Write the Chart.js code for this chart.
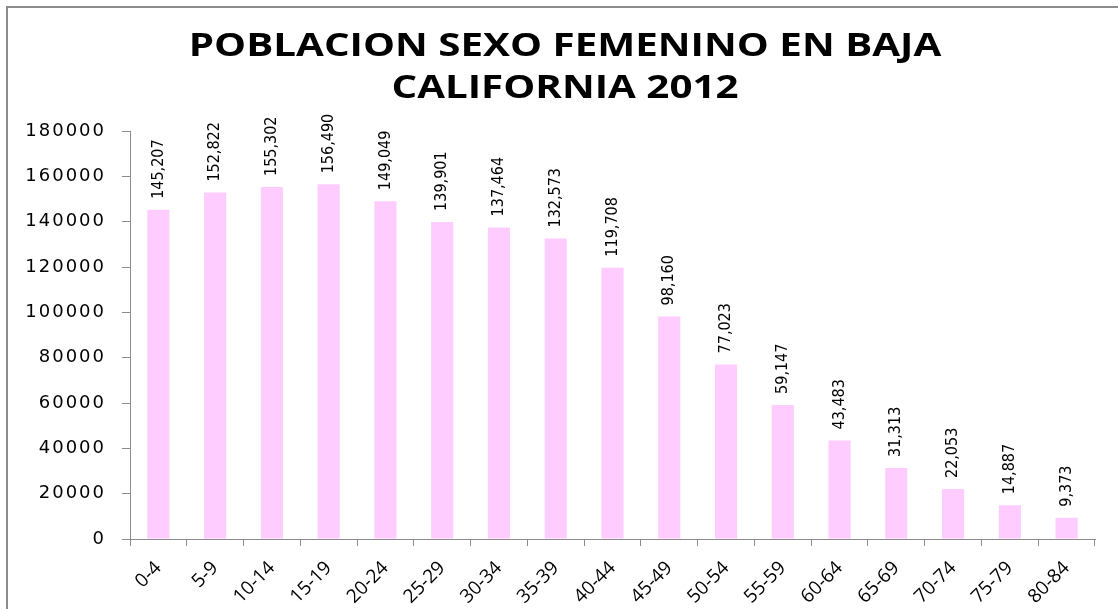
<!DOCTYPE html>
<html>
<head>
<meta charset="utf-8">
<script src="https://cdn.jsdelivr.net/npm/chart.js@4/dist/chart.umd.min.js"></script>
<style>
  html, body { margin: 0; padding: 0; background: #fff; overflow: hidden; }
  #wrap { position: absolute; left: 0; top: 0; width: 1118px; height: 609px; }
  #frame { position: absolute; left: 6px; top: 6px; width: 1200px; height: 700px;
           border-left: 2px solid #8c8c8c; border-top: 2px solid #8c8c8c; }
</style>
</head>
<body>
<div id="wrap">
  <div id="frame"></div>
  <canvas id="myChart" width="1118" height="609"></canvas>
</div>
<script>
(function () {
  "use strict";

  var ageGroups = ["0-4", "5-9", "10-14", "15-19", "20-24", "25-29", "30-34", "35-39",
    "40-44", "45-49", "50-54", "55-59", "60-64", "65-69", "70-74", "75-79", "80-84"];
  var femalePop = [145207, 152822, 155302, 156490, 149049, 139901, 137464, 132573,
    119708, 98160, 77023, 59147, 43483, 31313, 22053, 14887, 9373];
  var titleLines = ["POBLACION SEXO FEMENINO EN BAJA", "CALIFORNIA 2012"];

  // wide-looking y axis numbers: letter spacing only while the y labels draw
  var spacing = {
    id: "spacing",
    afterLayout: function (chart) {
      var y = chart.scales.y;
      if (y._spaced) return;
      var orig = y.drawLabels;
      y.drawLabels = function (area) {
        chart.ctx.letterSpacing = "2px";
        orig.call(this, area);
        chart.ctx.letterSpacing = "0px";
      };
      y._spaced = true;
    }
  };

  // two line title, stretched sideways like the original
  var bigTitle = {
    id: "bigTitle",
    afterDraw: function (chart) {
      var ctx = chart.ctx;
      ctx.save();
      ctx.font = "bold 32px 'Open Sans', sans-serif";
      ctx.fillStyle = "#000";
      ctx.textAlign = "center";
      ctx.textBaseline = "alphabetic";
      ctx.translate(565, 0);
      ctx.scale(1.26, 1);
      ctx.fillText(titleLines[0], 0, 56);
      ctx.fillText(titleLines[1], 0, 98);
      ctx.restore();
    }
  };

  // vertical value labels above each bar
  var barLabels = {
    id: "barLabels",
    afterDatasetsDraw: function (chart) {
      var ctx = chart.ctx;
      var meta = chart.getDatasetMeta(0);
      ctx.save();
      ctx.font = "16px 'Liberation Sans Narrow', 'DejaVu Sans Condensed', sans-serif";
      ctx.fillStyle = "#000";
      ctx.textAlign = "left";
      ctx.textBaseline = "middle";
      meta.data.forEach(function (bar, i) {
        ctx.save();
        ctx.translate(bar.x, bar.y - 11);
        ctx.rotate(-Math.PI / 2);
        ctx.fillText(femalePop[i].toLocaleString("en-US"), 0, 0);
        ctx.restore();
      });
      ctx.restore();
    }
  };

  var ctx = document.getElementById("myChart").getContext("2d");
  var myChart = new Chart(ctx, {
    type: "bar",
    data: {
      labels: ageGroups,
      datasets: [{
        label: "Mujeres",
        backgroundColor: "#ffccff",
        borderWidth: 0,
        data: femalePop,
        barPercentage: 0.78,
        categoryPercentage: 0.5
      }]
    },
    options: {
      responsive: false,
      animation: false,
      layout: { padding: { left: 14, right: 23, top: 131, bottom: 0 } },
      plugins: {
        legend: { display: false },
        tooltip: { enabled: false },
        title: { display: false }
      },
      scales: {
        x: {
          grid: { display: true, drawOnChartArea: false, drawTicks: true, tickLength: 7, color: "#8c8c8c", offset: true },
          border: { color: "#8c8c8c", width: 1 },
          ticks: {
            color: "#000",
            font: { family: "'Open Sans', sans-serif", size: 19 },
            maxRotation: 45, minRotation: 45, padding: 11
          },
          afterFit: function (scale) { scale.height = 70; }
        },
        y: {
          min: 0, max: 180000,
          grid: { display: true, drawOnChartArea: false, drawTicks: true, tickLength: 8, color: "#8c8c8c" },
          border: { color: "#8c8c8c", width: 1 },
          ticks: {
            stepSize: 20000,
            color: "#000",
            font: { family: "'DejaVu Sans', sans-serif", size: 18 },
            padding: 16,
            callback: function (v) { return String(v); }
          },
          afterFit: function (scale) { scale.width = 116; }
        }
      }
    },
    plugins: [spacing, bigTitle, barLabels]
  });
})();
</script>
</body>
</html>
